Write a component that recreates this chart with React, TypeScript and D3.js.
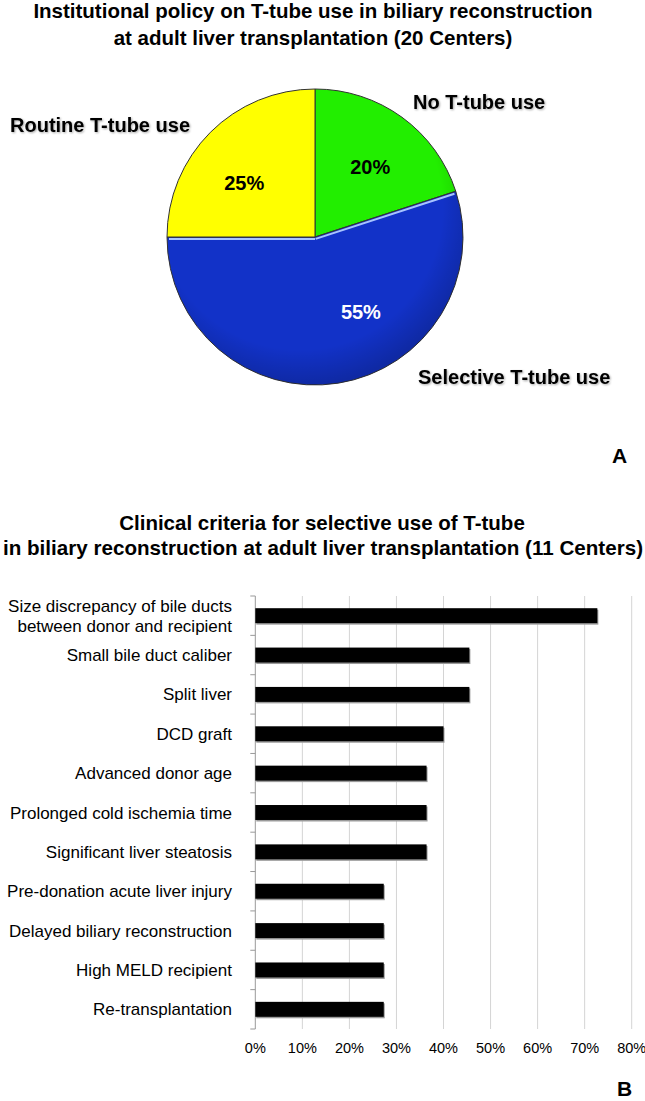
import React from "react";
import * as d3 from "d3";

// ---------- Data ----------
const pieTitle = [
  "Institutional policy on T-tube use in biliary reconstruction",
  "at adult liver transplantation (20 Centers)",
];
const pieCategories = ["No T-tube use", "Selective T-tube use", "Routine T-tube use"];
const pieValues = [20, 55, 25];
const pieColors = ["#22ee00", "#1232c8", "#ffff00"];
const pieLabelColors = ["#000", "#fff", "#000"];

const barTitle = [
  "Clinical criteria for selective use of T-tube",
  "in biliary reconstruction  at adult liver transplantation (11 Centers)",
];
const barCategories = [
  "Size discrepancy of bile ducts|between donor and recipient",
  "Small bile duct caliber",
  "Split liver",
  "DCD graft",
  "Advanced donor age",
  "Prolonged cold ischemia time",
  "Significant liver steatosis",
  "Pre-donation acute liver injury",
  "Delayed biliary reconstruction",
  "High MELD recipient",
  "Re-transplantation",
];
const barValues = [72.7, 45.5, 45.5, 40, 36.4, 36.4, 36.4, 27.3, 27.3, 27.3, 27.3];
const xTicks = [0, 10, 20, 30, 40, 50, 60, 70, 80];

const FONT = "'Liberation Sans', Arial, Helvetica, sans-serif";

export default function App() {
  // ---------- Pie ----------
  const cx = 315;
  const cy = 237;
  const R = 148;
  const pie = d3.pie<number>().sort(null).startAngle(0).endAngle(2 * Math.PI);
  const arcs = pie(pieValues);
  const arc = d3.arc<d3.PieArcDatum<number>>().innerRadius(0).outerRadius(R);
  const labelArc = d3
    .arc<d3.PieArcDatum<number>>()
    .innerRadius(R * 0.6)
    .outerRadius(R * 0.6);
  const labelShift = [
    [3, 2],
    [32, -13],
    [-8, 9],
  ];
  const blue = arcs[1];
  const bevelOff = 2;
  const edgeLine = (a: number, side: number) => {
    const dx = Math.sin(a);
    const dy = -Math.cos(a);
    const px = Math.cos(a) * side;
    const py = Math.sin(a) * side;
    return {
      x1: cx + px * bevelOff,
      y1: cy + py * bevelOff,
      x2: cx + dx * (R - 2) + px * bevelOff,
      y2: cy + dy * (R - 2) + py * bevelOff,
    };
  };
  const e1 = edgeLine(blue.startAngle, 1);
  const e2 = edgeLine(blue.endAngle, -1);

  // ---------- Bars ----------
  const x0 = 255.3;
  const x1 = 631.7;
  const yTop = 596;
  const yBot = 1029;
  const x = d3.scaleLinear().domain([0, 80]).range([x0, x1]);
  const y = d3
    .scaleBand<string>()
    .domain(barCategories)
    .range([yTop, yBot])
    .paddingInner(0.62)
    .paddingOuter(0.31);
  const step = y.step();

  return (
    <svg
      width={645}
      height={1101}
      style={{ position: "absolute", left: 0, top: 0, background: "#fff" }}
      fontFamily={FONT}
    >
      <rect width={645} height={1101} fill="#fff" />
      <defs>
        <radialGradient id="shade" cx="0.45" cy="0.4" r="0.6">
          <stop offset="0.8" stopColor="#000" stopOpacity={0} />
          <stop offset="1" stopColor="#000" stopOpacity={0.18} />
        </radialGradient>
        <filter id="tshadow" x="-5%" y="-20%" width="110%" height="140%">
          <feGaussianBlur in="SourceAlpha" stdDeviation="0.8" />
          <feOffset dx="1" dy="1" result="b" />
          <feComponentTransfer>
            <feFuncA type="linear" slope="0.35" />
          </feComponentTransfer>
          <feMerge>
            <feMergeNode />
            <feMergeNode in="SourceGraphic" />
          </feMerge>
        </filter>
      </defs>

      {/* Pie title */}
      <g fontWeight="bold" fontSize={20.5} textAnchor="middle" fill="#000">
        <text x={313} y={18}>{pieTitle[0]}</text>
        <text x={313} y={45}>{pieTitle[1]}</text>
      </g>

      {/* Pie */}
      <g transform={`translate(${cx},${cy})`}>
        {arcs.map((a, i) => (
          <path key={i} d={arc(a) || ""} fill={pieColors[i]} stroke="#333" strokeWidth={1} />
        ))}
        <circle r={R} fill="url(#shade)" />
      </g>
      <line {...e1} stroke="#a8c4ff" strokeWidth={2} />
      <line {...e2} stroke="#a8c4ff" strokeWidth={2} />
      <g transform={`translate(${cx},${cy})`} fontWeight="bold" fontSize={20} textAnchor="middle">
        {arcs.map((a, i) => {
          const [lx, ly] = labelArc.centroid(a);
          return (
            <text
              key={i}
              x={lx + labelShift[i][0]}
              y={ly + labelShift[i][1] + 7}
              fill={pieLabelColors[i]}
            >
              {`${pieValues[i]}%`}
            </text>
          );
        })}
      </g>
      <g fontWeight="bold" fontSize={20} fill="#000" filter="url(#tshadow)">
        <text x={413} y={109}>{pieCategories[0]}</text>
        <text x={418} y={384}>{pieCategories[1]}</text>
        <text x={10} y={132}>{pieCategories[2]}</text>
      </g>
      <text x={612} y={463} fontWeight="bold" fontSize={21}>A</text>

      {/* Bar title */}
      <g fontWeight="bold" fontSize={20.5} textAnchor="middle" fill="#000">
        <text x={322} y={530}>{barTitle[0]}</text>
        <text x={323} y={555} textLength={640} lengthAdjust="spacingAndGlyphs">
          {barTitle[1]}
        </text>
      </g>

      {/* Grid */}
      {xTicks.slice(1).map((t) => (
        <line key={t} x1={x(t)} x2={x(t)} y1={yTop} y2={yBot} stroke="#d4d4d4" strokeWidth={1} />
      ))}
      {/* Y axis */}
      <line x1={x0} x2={x0} y1={yTop} y2={yBot} stroke="#999" strokeWidth={1} />
      {d3.range(barCategories.length + 1).map((i) => (
        <line
          key={i}
          x1={x0 - 5}
          x2={x0}
          y1={yTop + i * step}
          y2={yTop + i * step}
          stroke="#999"
          strokeWidth={1}
        />
      ))}

      {/* Bars */}
      {barCategories.map((c, i) => (
        <g key={c}>
          <rect
            x={x(0) + 1}
            y={(y(c) as number) + 1.5}
            width={x(barValues[i]) - x(0)}
            height={y.bandwidth()}
            fill="#9a9a9a"
          />
          <rect
            x={x(0)}
            y={y(c) as number}
            width={x(barValues[i]) - x(0)}
            height={y.bandwidth()}
            fill="#000"
          />
        </g>
      ))}

      {/* Category labels */}
      <g fontSize={17} textAnchor="end" fill="#000">
        {barCategories.map((c) => {
          const lines = c.split("|");
          const mid = (y(c) as number) + y.bandwidth() / 2;
          return lines.map((ln, j) => (
            <text key={c + j} x={232} y={mid + 6 + (j - (lines.length - 1) / 2) * 20}>
              {ln}
            </text>
          ));
        })}
      </g>

      {/* X tick labels */}
      <g fontSize={14.5} textAnchor="middle" fill="#000">
        {xTicks.map((t) => (
          <text key={t} x={x(t)} y={1053}>{`${t}%`}</text>
        ))}
      </g>
      <text x={617} y={1096} fontWeight="bold" fontSize={21}>B</text>
    </svg>
  );
}
